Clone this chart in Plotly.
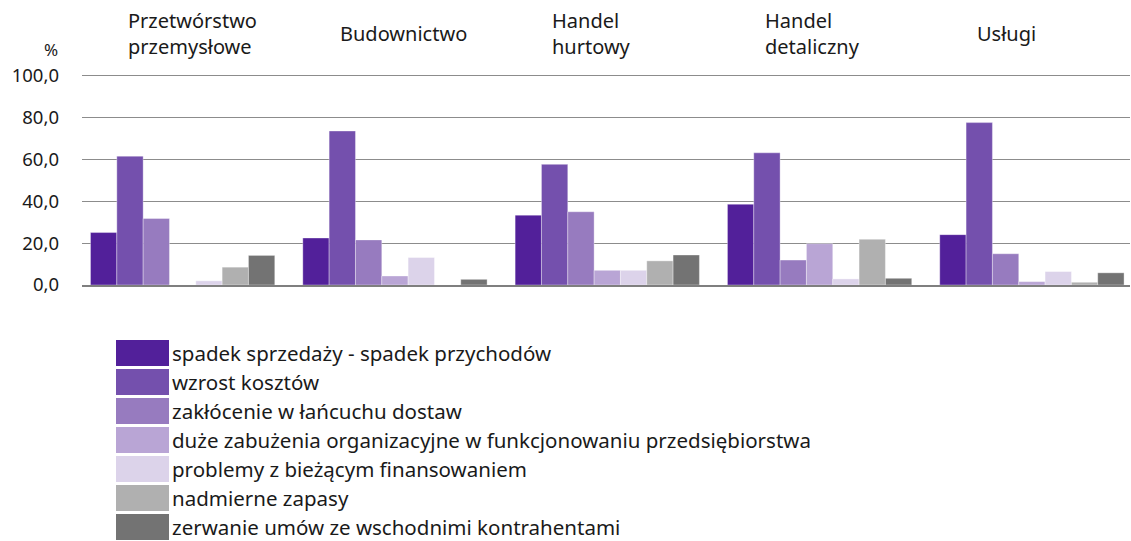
import plotly.graph_objects as go

categories = [
    "Przetwórstwo<br>przemysłowe",
    "Budownictwo",
    "Handel<br>hurtowy",
    "Handel<br>detaliczny",
    "Usługi",
]

series_names = [
    "spadek sprzedaży - spadek przychodów",
    "wzrost kosztów",
    "zakłócenie w łańcuchu dostaw",
    "duże zabużenia organizacyjne w funkcjonowaniu przedsiębiorstwa",
    "problemy z bieżącym finansowaniem",
    "nadmierne zapasy",
    "zerwanie umów ze wschodnimi kontrahentami",
]

spadek_sprzedazy = [25.0, 22.4, 33.3, 38.5, 24.0]
wzrost_kosztow = [61.4, 73.4, 57.5, 63.0, 77.4]
zaklocenie_dostaw = [31.7, 21.5, 34.9, 11.9, 14.9]
zaburzenia_org = [0.0, 4.3, 7.0, 19.7, 1.6]
problemy_finansowanie = [2.0, 13.1, 7.0, 2.9, 6.4]
nadmierne_zapasy = [8.5, 0.0, 11.5, 21.8, 1.3]
zerwanie_umow = [14.1, 2.7, 14.3, 3.2, 5.8]

series_values = [
    spadek_sprzedazy,
    wzrost_kosztow,
    zaklocenie_dostaw,
    zaburzenia_org,
    problemy_finansowanie,
    nadmierne_zapasy,
    zerwanie_umow,
]

colors = ["#52209a", "#7450ad", "#977bbf", "#b9a5d5", "#dcd3ea", "#b0b0b0", "#737373"]

FONT = "Noto Sans"
TXT = "#1a1a1a"
W, H = 1131, 541
# plot top sits a bit above the 100 gridline so the gridline is still drawn
ML, MR, MT, MB = 82, 1, 71, 256
PW = W - ML - MR
PH = H - MT - MB


def px_x(x):
    return (x - ML) / PW


def px_y(y):
    return (H - MB - y) / PH


fig = go.Figure()
for name, vals, col in zip(series_names, series_values, colors):
    fig.add_trace(
        go.Bar(
            x=categories,
            y=vals,
            name=name,
            marker=dict(color=col, line=dict(width=1, color="rgba(255,255,255,0.35)")),
            showlegend=False,
        )
    )

annotations = []
# category labels above the groups, left aligned
for cat in categories:
    annotations.append(
        dict(
            x=cat, xref="x", xanchor="left", xshift=-57,
            y=px_y(34), yref="paper", yanchor="middle",
            text=cat, showarrow=False, align="left",
            font=dict(family=FONT, size=20, color=TXT),
        )
    )
annotations.append(
    dict(
        x=px_x(60), xref="paper", xanchor="right",
        y=px_y(49), yref="paper", yanchor="middle",
        text="%", showarrow=False,
        font=dict(family=FONT, size=17, color=TXT),
    )
)

# hand-made legend with big swatches
shapes = []
for i, (name, col) in enumerate(zip(series_names, colors)):
    top = 340 + i * 29
    shapes.append(
        dict(
            type="rect", xref="paper", yref="paper",
            x0=px_x(116), x1=px_x(169), y0=px_y(top), y1=px_y(top + 26),
            fillcolor=col, line=dict(width=0),
        )
    )
    annotations.append(
        dict(
            x=px_x(170), xref="paper", xanchor="left",
            y=px_y(top + 13), yref="paper", yanchor="middle",
            text=name, showarrow=False,
            font=dict(family=FONT, size=20.5, color=TXT),
        )
    )

fig.update_layout(
    width=W,
    height=H,
    margin=dict(l=ML, r=MR, t=MT, b=MB),
    barmode="group",
    bargap=0.132,
    bargroupgap=0,
    plot_bgcolor="white",
    paper_bgcolor="white",
    separators=", ",
    font=dict(family=FONT, size=18, color=TXT),
    annotations=annotations,
    shapes=shapes,
    showlegend=False,
)

fig.update_xaxes(
    range=[-0.474, 4.462],
    showticklabels=False,
    showgrid=False,
    showline=True,
    linecolor="#7f7f7f",
    linewidth=2,
    ticks="",
)
fig.update_yaxes(
    range=[0, 102],
    tickvals=[0, 20, 40, 60, 80, 100],
    tickformat=".1f",
    showgrid=True,
    gridcolor="#8c8c8c",
    gridwidth=1,
    zeroline=False,
    showline=False,
    ticks="",
    ticklabelstandoff=22,
    tickfont=dict(family=FONT, size=18.5, color=TXT),
)

fig.write_html(
    "out.html",
    config={"displayModeBar": False},
    post_script="document.body.style.margin='0px';",
)
